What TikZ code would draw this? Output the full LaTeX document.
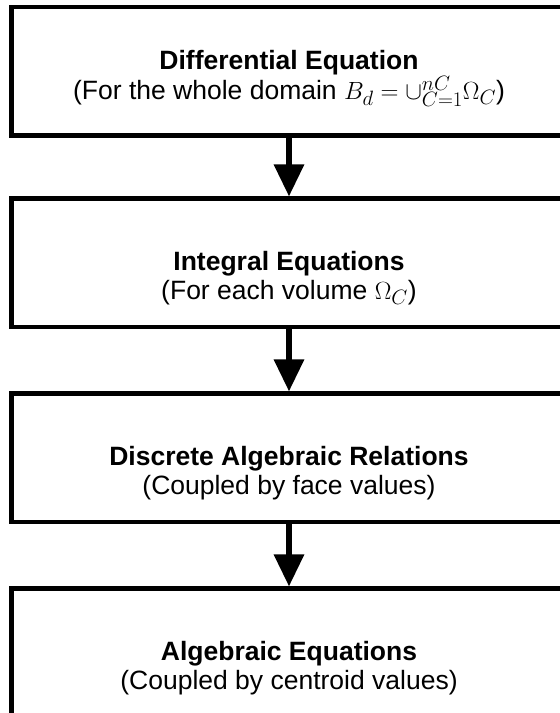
\documentclass[tikz,border=0pt]{standalone}
\usepackage[no-math]{fontspec}
\setmainfont{Liberation Sans}
\usetikzlibrary{arrows.meta}

% formulas are set a little larger than the surrounding text
\newcommand{\bigmath}[1]{{\fontsize{29}{28.5}\selectfont$#1$}}

\tikzset{
  stagebox/.style={draw=black, line width=4.5pt, fill=white,
    minimum width=555pt, minimum height=128.5pt, inner sep=0pt},
  stagetext/.style={inner sep=0pt, align=center,
    font=\fontsize{26.5}{28.5}\selectfont},
  flowarrow/.style={line width=6pt, -{Triangle[width=29pt, length=32pt]}}
}

\begin{document}
\begin{tikzpicture}[x=1pt, y=1pt]
  \useasboundingbox (0,0) rectangle (560,713);
  \fill[white] (0,0) rectangle (560,713);

  % the four stages, top to bottom
  \node[stagebox] (diff)  at (289,641.75) {};
  \node[stagebox] (integ) at (289,450) {};
  \node[stagebox] (discr) at (289,255) {};
  \node[stagebox] (alg)   at (289,60) {};

  \node[stagetext] (diff-text) at ([yshift=-7pt]diff.center)
    {\textbf{Differential Equation}\\(For the whole domain \bigmath{B_d=\cup_{C=1}^{nC}\Omega_C})};
  \node[stagetext] (integ-text) at ([yshift=-15pt]integ.center)
    {\textbf{Integral Equations}\\(For each volume \bigmath{\Omega_C})};
  \node[stagetext] (discr-text) at ([yshift=-15pt]discr.center)
    {\textbf{Discrete Algebraic Relations}\\(Coupled by face values)};
  \node[stagetext] (alg-text) at ([yshift=-15pt]alg.center)
    {\textbf{Algebraic Equations}\\(Coupled by centroid values)};

  % connectors between consecutive stages
  \draw[flowarrow] (diff.south) -- (integ.north);
  \draw[flowarrow] (integ.south) -- (discr.north);
  \draw[flowarrow] (discr.south) -- (alg.north);
\end{tikzpicture}
\end{document}
